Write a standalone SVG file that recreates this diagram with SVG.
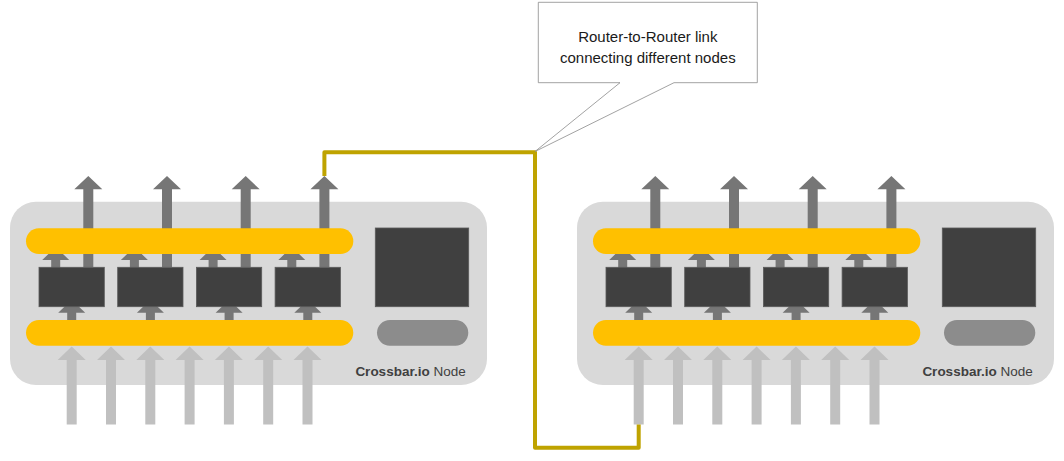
<svg xmlns="http://www.w3.org/2000/svg" xmlns:xlink="http://www.w3.org/1999/xlink" width="1064" height="461" viewBox="0 0 1064 461">
<style>
.bg{fill:#d9d9d9}
.bar{fill:#ffc000}
.box{fill:#404040;stroke:#5a5a5a;stroke-width:0.8}
.pill{fill:#8c8c8c}
.aout{fill:#767676}
.ain{fill:#c0c0c0}
.lbl{font-family:"Liberation Sans",Arial,sans-serif;font-size:13.5px;fill:#404040}
.call{fill:#ffffff;stroke:#8a8a8a;stroke-width:0.8}
.calltxt{font-family:"Liberation Sans",Arial,sans-serif;font-size:15px;fill:#1a1a1a;text-anchor:middle}
.link{fill:none;stroke:#bfa300;stroke-width:4;stroke-linejoin:round;stroke-linecap:butt}
</style>
<defs>
<path id="out" d="M-5,91 V13.3 H-14 L0,0 L14,13.3 H5 V91 Z"/>
<path id="sm" d="M-4.5,21 V13 H-13.5 L0,0 L13.5,13 H4.5 V21 Z"/>
<path id="in" d="M-5,78 V13.5 H-14 L0,0 L14,13.5 H5 V78 Z"/>
<g id="nodebody">
<rect class="bg" x="10" y="201.7" width="477" height="183.3" rx="26" ry="26"/>
<g class="aout">
<use xlink:href="#out" x="88.3" y="176"/>
<use xlink:href="#out" x="167" y="176"/>
<use xlink:href="#out" x="245.7" y="176"/>
<use xlink:href="#out" x="324.4" y="176"/>
<use xlink:href="#sm" x="55.7" y="247"/>
<use xlink:href="#sm" x="134.4" y="247"/>
<use xlink:href="#sm" x="213.1" y="247"/>
<use xlink:href="#sm" x="291.8" y="247"/>
<use xlink:href="#sm" x="71.7" y="299.7"/>
<use xlink:href="#sm" x="150.4" y="299.7"/>
<use xlink:href="#sm" x="229.1" y="299.7"/>
<use xlink:href="#sm" x="307.8" y="299.7"/>
</g>
<g class="ain">
<use xlink:href="#in" x="71.7" y="346.5"/>
<use xlink:href="#in" x="111" y="346.5"/>
<use xlink:href="#in" x="150.3" y="346.5"/>
<use xlink:href="#in" x="189.6" y="346.5"/>
<use xlink:href="#in" x="228.9" y="346.5"/>
<use xlink:href="#in" x="268.2" y="346.5"/>
<use xlink:href="#in" x="307.5" y="346.5"/>
</g>
<rect class="bar" x="26" y="228.3" width="327.3" height="25.7" rx="12.85"/>
<rect class="bar" x="26" y="320" width="327.3" height="25.7" rx="12.85"/>
<rect class="box" x="39" y="267.3" width="65.3" height="39.4"/>
<rect class="box" x="117.7" y="267.3" width="65.3" height="39.4"/>
<rect class="box" x="196.4" y="267.3" width="65.3" height="39.4"/>
<rect class="box" x="275.1" y="267.3" width="65.3" height="39.4"/>
<rect class="box" x="375.3" y="228" width="93.4" height="78.7"/>
<rect class="pill" x="377" y="320" width="91.3" height="25.7" rx="12.85"/>
<text class="lbl" x="465.7" y="376" text-anchor="end"><tspan font-weight="bold">Crossbar.io</tspan> Node</text>
</g>
</defs>
<g id="node-left">
<use xlink:href="#nodebody"/>
</g>
<g id="node-right" transform="translate(567,0)">
<use xlink:href="#nodebody"/>
</g>
<g id="connectors">
<path class="link" d="M324.4,176 V152.3 H535 V447.7 H638.7 V424.5"/>
</g>
<g id="callout">
<path class="call" d="M538.3,2.3 H757.3 V82.7 H674 L535,151.5 L620,82.7 H538.3 Z"/>
<text class="calltxt" x="647.8" y="42">Router-to-Router link</text>
<text class="calltxt" x="647.8" y="63">connecting different nodes</text>
</g>
</svg>
